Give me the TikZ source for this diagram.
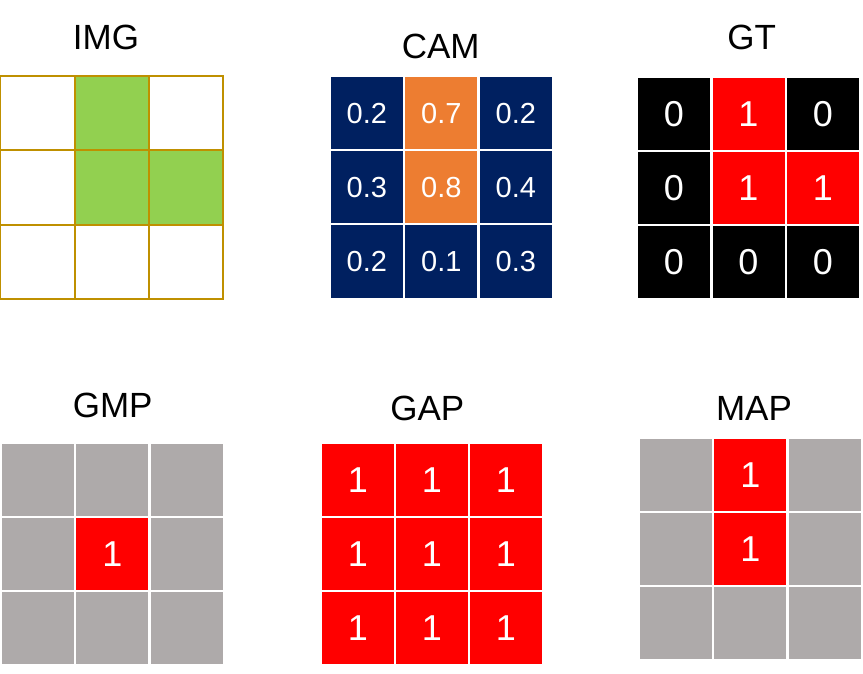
\documentclass[tikz,border=0pt]{standalone}
\usepackage{fontspec}
\setmainfont{Liberation Sans}
\usepackage{xcolor}
\usepackage{tikz}

\definecolor{navy}{HTML}{002060}
\definecolor{camorange}{HTML}{ED7D31}
\definecolor{imggreen}{HTML}{92D050}
\definecolor{gold}{HTML}{BF9000}
\definecolor{hotred}{HTML}{FF0000}
\definecolor{mapgray}{HTML}{AEAAAA}

\begin{document}
\begin{tikzpicture}[x=1pt, y=-1pt,
    title/.style={font=\fontsize{35}{40}\selectfont, text=black},
    cell/.style={minimum size=72pt, inner sep=0pt, text=white,
                 font=\fontsize{36}{40}\selectfont},
    small/.style={font=\fontsize{29}{32}\selectfont},
    imgcell/.style={minimum size=74.3pt, inner sep=0pt, draw=gold, line width=2pt}]
        \useasboundingbox (0,0) rectangle (863,674);

        % 标题
        \node[title] (imgT) at (106,37) {IMG};
        \node[title] (camT) at (440.7,46.7) {CAM};
        \node[title] (gtT) at (751.7,37.3) {GT};
        \node[title] (gmpT) at (112.7,405) {GMP};
        \node[title] (gapT) at (427.3,408) {GAP};
        \node[title] (mapT) at (754,408) {MAP};

        % 输入图像
        \foreach \f [count=\k from 0] in {white,imggreen,white,white,imggreen,imggreen,white,white,white} {
            \pgfmathtruncatemacro{\r}{div(\k,3)}
            \pgfmathtruncatemacro{\c}{mod(\k,3)}
            \node[imgcell, fill=\f] (img-\r\c) at (37.4+74.3*\c, 113.5+74.1*\r) {};
        }

        % CAM
        \foreach \f/\v [count=\k from 0] in {navy/0.2,camorange/0.7,navy/0.2,navy/0.3,camorange/0.8,navy/0.4,navy/0.2,navy/0.1,navy/0.3} {
            \pgfmathtruncatemacro{\r}{div(\k,3)}
            \pgfmathtruncatemacro{\c}{mod(\k,3)}
            \node[cell, small, fill=\f] (cam-\r\c) at (366.8+74.5*\c, 113.5+74*\r) {\v};
        }

        % GT
        \foreach \f/\v [count=\k from 0] in {black/0,hotred/1,black/0,black/0,hotred/1,hotred/1,black/0,black/0,black/0} {
            \pgfmathtruncatemacro{\r}{div(\k,3)}
            \pgfmathtruncatemacro{\c}{mod(\k,3)}
            \node[cell, fill=\f] (gt-\r\c) at (674+74.5*\c, 113.8+74*\r) {\v};
        }

        % GMP
        \foreach \f/\v [count=\k from 0] in {mapgray/{},mapgray/{},mapgray/{},mapgray/{},hotred/1,mapgray/{},mapgray/{},mapgray/{},mapgray/{}} {
            \pgfmathtruncatemacro{\r}{div(\k,3)}
            \pgfmathtruncatemacro{\c}{mod(\k,3)}
            \node[cell, fill=\f] (gmp-\r\c) at (37.8+74.5*\c, 479.8+74*\r) {\v};
        }

        % GAP
        \foreach \k in {0,...,8} {
            \pgfmathtruncatemacro{\r}{div(\k,3)}
            \pgfmathtruncatemacro{\c}{mod(\k,3)}
            \node[cell, fill=hotred] (gap-\r\c) at (357.8+74*\c, 479.8+74*\r) {1};
        }

        % MAP
        \foreach \f/\v [count=\k from 0] in {mapgray/{},hotred/1,mapgray/{},mapgray/{},hotred/1,mapgray/{},mapgray/{},mapgray/{},mapgray/{}} {
            \pgfmathtruncatemacro{\r}{div(\k,3)}
            \pgfmathtruncatemacro{\c}{mod(\k,3)}
            \node[cell, fill=\f] (map-\r\c) at (675.8+74.5*\c, 474.8+74*\r) {\v};
        }
    \end{tikzpicture}
\end{document}
